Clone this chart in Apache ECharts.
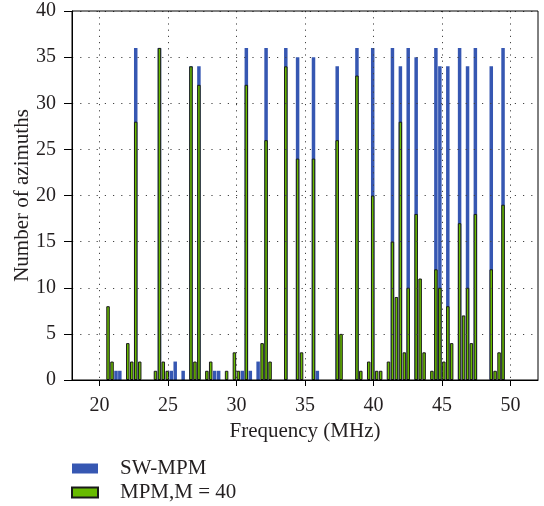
<!DOCTYPE html>
<html>
<head>
<meta charset="utf-8">
<script src="https://cdn.jsdelivr.net/npm/echarts@6/dist/echarts.min.js"></script>
<style>
html,body{margin:0;padding:0;background:#fff;}
#chart{width:544px;height:506px;}
</style>
</head>
<body>
<div id="chart"></div>
<script>
// Bin centre frequencies (MHz)
var freqs = [20.63, 20.92, 21.21, 21.49, 22.07, 22.36, 22.65, 22.94, 24.09, 24.38,
  24.66, 24.95, 25.24, 25.53, 26.11, 26.68, 26.97, 27.26, 27.84, 28.12,
  28.41, 28.70, 29.28, 29.85, 30.14, 30.43, 30.72, 31.01, 31.58, 31.87,
  32.16, 32.45, 33.60, 34.46, 34.75, 35.62, 35.90, 37.35, 37.63, 38.79,
  39.07, 39.65, 39.94, 40.23, 40.52, 41.09, 41.38, 41.67, 41.96, 42.25,
  42.53, 43.11, 43.40, 43.69, 44.26, 44.55, 44.84, 45.13, 45.42, 45.70,
  46.28, 46.57, 46.86, 47.14, 47.43, 48.59, 48.87, 49.16, 49.45];
// SW-MPM counts
var swCounts = [0, 0, 1, 1, 0, 0, 36, 0, 0, 36,
  0, 0, 1, 2, 1, 34, 0, 34, 0, 0,
  1, 1, 0, 0, 0, 1, 36, 1, 2, 0,
  36, 0, 36, 35, 0, 35, 1, 34, 0, 36,
  0, 0, 36, 0, 0, 0, 36, 0, 34, 0,
  36, 35, 0, 0, 0, 36, 34, 0, 34, 0,
  36, 0, 34, 0, 36, 34, 0, 0, 36];
// MPM, M = 40 counts
var mpmCounts = [8, 2, 0, 0, 4, 2, 28, 2, 1, 36,
  2, 1, 0, 0, 0, 34, 2, 32, 1, 2,
  0, 0, 1, 3, 1, 0, 32, 0, 0, 4,
  26, 2, 34, 24, 3, 24, 0, 26, 5, 33,
  1, 2, 20, 1, 1, 2, 15, 9, 28, 3,
  10, 18, 11, 3, 1, 12, 10, 2, 8, 4,
  17, 7, 10, 4, 18, 12, 1, 3, 19];
var xTicks = [20, 25, 30, 35, 40, 45, 50];
var seriesNames = ['SW-MPM', 'MPM,M = 40'];

function pairs(vals) {
  var out = [];
  for (var i = 0; i < freqs.length; i++) {
    if (vals[i] > 0) out.push([freqs[i], vals[i]]);
  }
  return out;
}

var FONT = 'Liberation Serif';
var nameTxt = {fontFamily: FONT, fontSize: 21, color: '#231f20'};

var xBase = {
  type: 'value', min: 18, max: 52, z: 5
};

var chart = echarts.init(document.getElementById('chart'), null, {renderer: 'canvas'});
chart.setOption({
  animation: false,
  backgroundColor: '#fff',
  grid: {left: 72, right: 6, top: 11, bottom: 126, containLabel: false, outerBoundsMode: 'none',
    show: true, borderColor: '#000', borderWidth: 1, backgroundColor: 'transparent', z: 6},
  legend: {
    orient: 'vertical', left: 71, top: 458, height: 47, padding: 0,
    itemWidth: 26, itemHeight: 10, itemGap: 3,
    icon: 'rect',
    textStyle: {fontFamily: FONT, fontSize: 21, color: '#231f20', padding: [0, 0, 0, 17]},
    data: seriesNames
  },
  xAxis: [
    Object.assign({}, xBase, {
      position: 'bottom',
      name: 'Frequency (MHz)', nameLocation: 'middle', nameGap: 38,
      nameTextStyle: nameTxt,
      axisLine: {show: true, onZero: false, lineStyle: {color: '#000', width: 1}},
      axisTick: {show: true, inside: false, length: 6, lineStyle: {color: '#000'}, customValues: xTicks},
      axisLabel: {show: true, margin: 16, fontFamily: FONT, fontSize: 20, color: '#231f20', customValues: xTicks},
      splitLine: {show: true, lineStyle: {color: '#444', width: 1, type: [1.2, 5]}}
    }),
    Object.assign({}, xBase, {
      show: false,
      axisLine: {show: false}, axisTick: {show: false}, axisLabel: {show: false}, splitLine: {show: false}
    })
  ],
  yAxis: {
    type: 'value', min: 0, max: 40, interval: 5, z: 5,
    name: 'Number of azimuths', nameLocation: 'middle', nameGap: 39, nameMoveOverlap: false,
    nameTextStyle: nameTxt,
    axisLine: {show: true, lineStyle: {color: '#000', width: 1}},
    axisTick: {show: true, inside: false, length: 8, lineStyle: {color: '#000'}},
    axisLabel: {margin: 16, fontFamily: FONT, fontSize: 20, color: '#231f20'},
    splitLine: {show: true, lineStyle: {color: '#444', width: 1, type: [1.2, 7]}}
  },
  series: [
    {
      name: seriesNames[0], type: 'bar', xAxisIndex: 1,
      barWidth: 3.5,
      itemStyle: {color: '#3657b2', borderWidth: 0},
      data: pairs(swCounts), z: 2
    },
    {
      name: seriesNames[1], type: 'bar', xAxisIndex: 0,
      barWidth: 3.5,
      itemStyle: {color: '#68bb00', borderColor: '#1a1a1a', borderWidth: 1},
      data: pairs(mpmCounts), z: 3
    }
  ]
});
</script>
</body>
</html>
